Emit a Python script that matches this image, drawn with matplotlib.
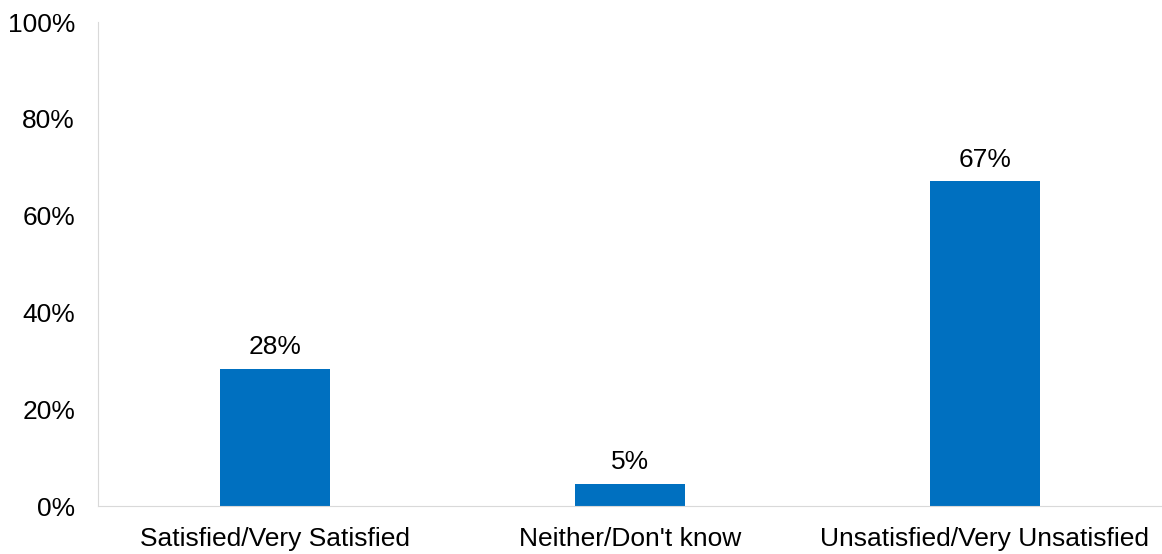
import matplotlib
matplotlib.use("Agg")
import matplotlib.pyplot as plt
from matplotlib.ticker import PercentFormatter

categories = ["Satisfied/Very Satisfied", "Neither/Don't know", "Unsatisfied/Very Unsatisfied"]
values = [28.3, 4.6, 67.1]
labels = ["28%", "5%", "67%"]

plt.rcParams['font.family'] = ['Liberation Sans', 'DejaVu Sans']

fig = plt.figure(figsize=(11.62, 5.54), dpi=100)
ax = fig.add_axes([0.0843, 0.0866, 0.9157, 0.8734])
x = range(len(categories))
bars = ax.bar(x, values, width=0.31, color="#0070C0")
for xi, v, lab in zip(x, values, labels):
    ax.text(xi, v + 2.0, lab, ha="center", va="bottom", fontsize=19, color="black")

ax.set_xlim(-0.5, 2.5)
ax.set_ylim(0, 100)
ax.set_yticks(range(0, 101, 20))
ax.yaxis.set_major_formatter(PercentFormatter(decimals=0))
ax.set_xticks(list(x))
ax.set_xticklabels(categories)
ax.tick_params(axis="both", labelsize=19, length=0, colors="black")
ax.tick_params(axis="y", pad=16.5)
ax.tick_params(axis="x", pad=15)
for s in ["top", "right"]:
    ax.spines[s].set_visible(False)
ax.spines["left"].set_color("#D9D9D9")
ax.spines["bottom"].set_color("#D9D9D9")
fig.savefig("out.png", dpi=100)
